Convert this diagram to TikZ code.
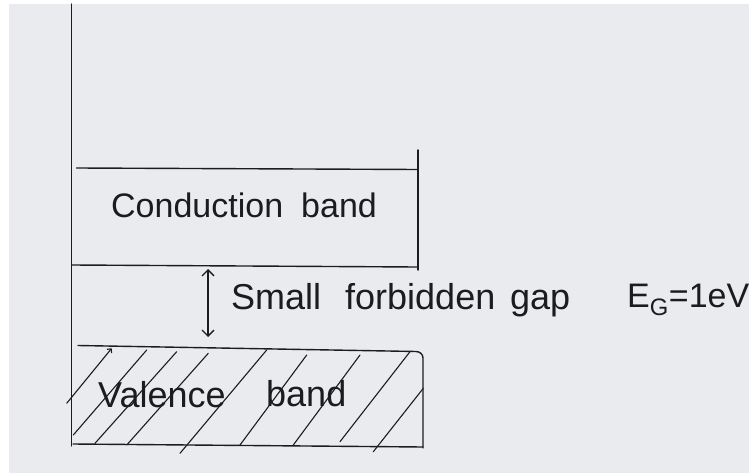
\documentclass[tikz,border=0pt]{standalone}
\usepackage{fontspec}
\setmainfont{Liberation Sans}
\usetikzlibrary{arrows.meta}
\definecolor{paper}{RGB}{234,235,238}
\definecolor{ink}{RGB}{28,28,32}
\begin{document}
\begin{tikzpicture}[x=1pt,y=-1pt,
  bandline/.style={draw=ink, line width=1.4pt, line cap=round, line join=round},
  hatchline/.style={draw=ink, line width=1.1pt, line cap=round},
  gaparrow/.style={draw=ink, line width=1.3pt, {Straight Barb[length=6pt,width=12pt]}-{Straight Barb[length=6pt,width=12pt]}},
  lbl/.style={text=ink, font=\fontsize{34}{40}\selectfont, inner sep=0pt, anchor=base west},
  biglbl/.style={lbl, font=\fontsize{36}{42}\selectfont}]
\useasboundingbox (0,0) rectangle (749,473);
\fill[white] (0,0) rectangle (749,473);
\fill[paper] (9,4) rectangle (749,473);
% axis
\coordinate (axtop) at (71.5,4);
\coordinate (axbot) at (71.5,446);
\draw[bandline] (axtop) -- (axbot);
% conduction band
\coordinate (ctl) at (76.5,168);
\coordinate (ctr) at (418,169.5);
\coordinate (crt) at (418,150);
\coordinate (crb) at (418,270);
\coordinate (cbl) at (72,265);
\coordinate (cbr) at (417,267);
\draw[bandline] (ctl) -- (ctr);
\draw[bandline] (crt) -- (crb);
\draw[bandline] (cbl) -- (cbr);
% valence band
\coordinate (vtl) at (78,345.5);
\coordinate (vtr) at (416,351.5);
\coordinate (vrt) at (423,358);
\coordinate (vrb) at (423,448);
\coordinate (vbl) at (73,444);
\coordinate (vbr) at (423,447);
\draw[bandline] (vtl) -- (vtr) to[out=0,in=90] (vrt) -- (vrb);
\draw[bandline] (vbl) -- (vbr);
% hatching
\coordinate (hA1) at (111.7,348.3); \coordinate (hA2) at (66.7,403.3);
\coordinate (hB1) at (146.7,350);   \coordinate (hB2) at (73.3,435);
\coordinate (hC1) at (176.7,351.7); \coordinate (hC2) at (95,443.3);
\coordinate (hD1) at (208.3,353.3); \coordinate (hD2) at (126.7,445);
\coordinate (hE1) at (266.7,350);   \coordinate (hE2) at (180,453.3);
\coordinate (hF1) at (306.7,355);   \coordinate (hF2) at (240,445);
\coordinate (hG1) at (360,355);     \coordinate (hG2) at (293.3,445);
\coordinate (hH1) at (410,351.7);   \coordinate (hH2) at (340,441.7);
\coordinate (hI1) at (423.3,388.3); \coordinate (hI2) at (373.3,451.7);
\draw[hatchline, {Straight Barb[length=3pt,width=6pt]}-] (hA1) -- (hA2);
\foreach \h in {B,C,D,E,F,G,H,I}{
  \draw[hatchline] (h\h1) -- (h\h2);
}
% gap arrow
\coordinate (gtop) at (208,269);
\coordinate (gbot) at (208,337);
\draw[gaparrow] (gtop) -- (gbot);
% labels
\node[lbl] (cond) at (111,218) {Conduction};
\node[lbl] (cband) at (301,218) {band};
\node[biglbl] (small) at (231,309) {Small};
\node[biglbl] (forb) at (345,309) {forbidden};
\node[biglbl] (gap) at (510,309) {gap};
\node[lbl] (eg) at (627,307) {E\textsubscript{G}=1eV};
\node[biglbl] (val) at (98,407) {Valence};
\node[biglbl] (vband) at (266,406) {band};
\end{tikzpicture}
\end{document}
